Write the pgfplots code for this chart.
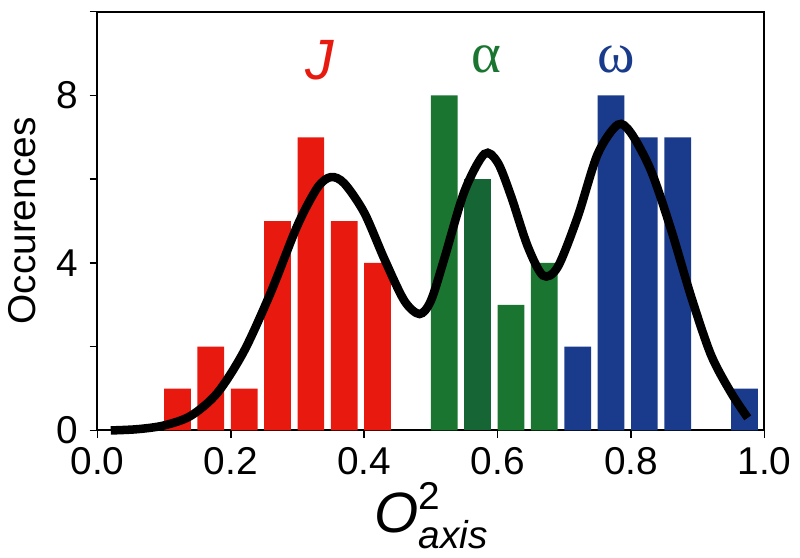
\documentclass[border=0pt]{standalone}
\usepackage{fontspec}
\setmainfont{Liberation Sans}
\newfontfamily\greekfont{Liberation Serif}
\usepackage{pgfplots}
\pgfplotsset{compat=1.18}
\definecolor{histRed}{HTML}{E8190F}
\definecolor{histGreen}{HTML}{19752F}
\definecolor{histGreenDk}{HTML}{156535}
\definecolor{histBlue}{HTML}{1A3A8C}

\begin{document}
\begin{tikzpicture}
\begin{axis}[
    scale only axis,
    width=258pt, height=162pt,
    xmin=0, xmax=1, ymin=0, ymax=10,
    xtick={0,0.2,0.4,0.6,0.8,1},
    ytick={0,4,8},
    minor ytick={2,6,10},
    tick align=outside,
    xtick pos=bottom, ytick pos=left,
    major tick length=3pt, minor tick length=3pt,
    every tick/.style={black, line width=0.6pt},
    axis line style={line width=0.8pt},
    /pgf/number format/assume math mode=true,
    xticklabel style={/pgf/number format/.cd, fixed, fixed zerofill, precision=1},
    ticklabel style={font=\fontsize{15}{16}\selectfont},
    yticklabel style={xshift=-1pt},
    ylabel={Occurences},
    ylabel style={font=\fontsize{15}{16}\selectfont, yshift=1pt},
    xlabel={{\fontsize{22}{24}\selectfont\itshape O}\rlap{\raisebox{9pt}{\fontsize{15}{16}\selectfont 2}}\raisebox{-6pt}{\fontsize{15}{16}\selectfont\itshape axis}},
    xlabel style={yshift=4pt},
    clip=false,
]
% red bars
\addplot[ybar, bar width=0.04, bar shift=0pt, fill=histRed, draw=none] coordinates {
    (0.12,1) (0.17,2) (0.22,1) (0.27,5) (0.32,7) (0.37,5) (0.42,4)
};
% green bars
\addplot[ybar, bar width=0.04, bar shift=0pt, fill=histGreen, draw=none] coordinates {
    (0.52,8) (0.62,3) (0.67,4)
};
\addplot[ybar, bar width=0.04, bar shift=0pt, fill=histGreenDk, draw=none] coordinates {
    (0.57,6)
};
% blue bars
\addplot[ybar, bar width=0.04, bar shift=0pt, fill=histBlue, draw=none] coordinates {
    (0.72,2) (0.77,8) (0.82,7) (0.87,7) (0.97,1)
};
% fitted curve
\addplot[black, line width=3.3pt, smooth, tension=0.5, no marks] coordinates {
    (0.02,0.0) (0.06,0.03) (0.10,0.12) (0.14,0.35) (0.18,0.9) (0.22,1.9)
    (0.26,3.3) (0.30,4.9) (0.33,5.8) (0.35,6.05) (0.37,5.9) (0.40,5.2)
    (0.43,4.1) (0.46,3.1) (0.483,2.78) (0.50,3.1) (0.52,4.1) (0.55,5.7)
    (0.58,6.6) (0.60,6.4) (0.62,5.6) (0.645,4.4) (0.668,3.7) (0.69,3.9)
    (0.72,5.1) (0.75,6.6) (0.78,7.3) (0.80,7.1) (0.83,6.2) (0.86,4.8)
    (0.89,3.2) (0.92,1.8) (0.95,0.9) (0.975,0.3)
};
\node[text=histRed, font=\fontsize{22}{24}\selectfont\itshape] at (axis cs:0.334,8.85) {J};
\node[text=histGreen, font=\fontsize{22}{24}\selectfont\greekfont] at (axis cs:0.583,8.85) {α};
\node[text=histBlue, font=\fontsize{22}{24}\selectfont\greekfont] at (axis cs:0.778,8.85) {ω};
% a little room above the frame
\path (rel axis cs:0,1) ++(0,4.5pt) coordinate (topmargin);
\end{axis}
\end{tikzpicture}
\end{document}
